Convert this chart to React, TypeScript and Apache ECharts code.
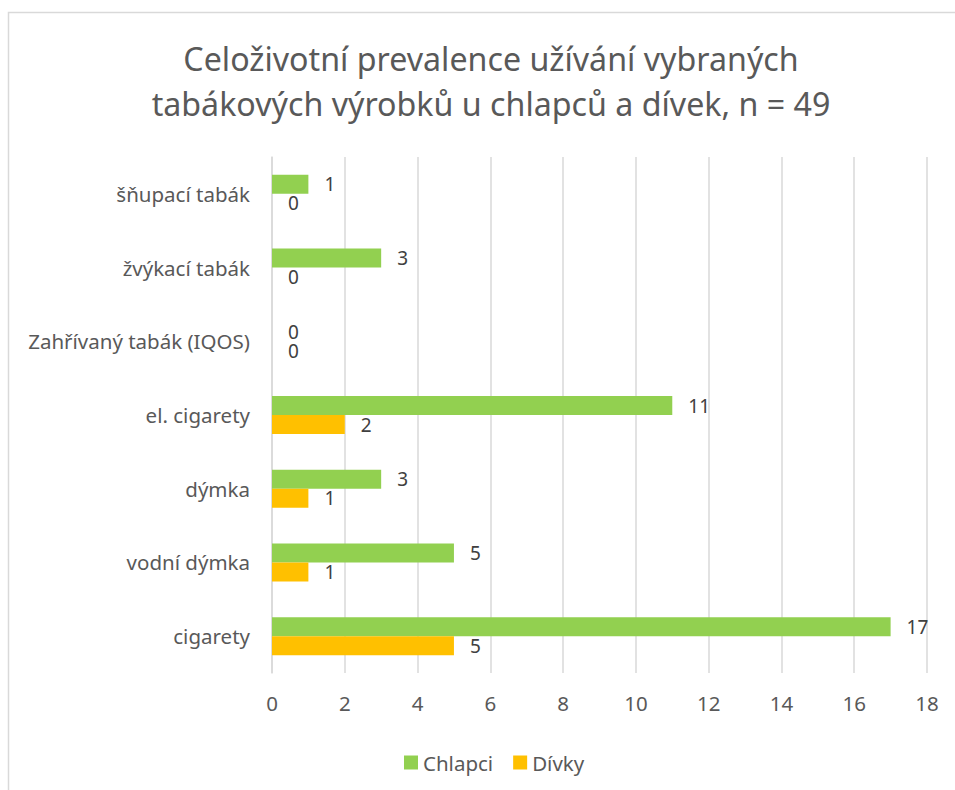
import React, { useEffect, useRef } from "react";
import * as echarts from "echarts";

const categories = [
  "cigarety",
  "vodní dýmka",
  "dýmka",
  "el. cigarety",
  "Zahřívaný tabák (IQOS)",
  "žvýkací tabák",
  "šňupací tabák",
];
const chlapci = [17, 5, 3, 11, 0, 3, 1];
const divky = [5, 1, 1, 2, 0, 0, 0];
const xTicks = { min: 0, max: 18, interval: 2 };
const titleText = "Celoživotní prevalence užívání vybraných\ntabákových výrobků u chlapců a dívek, n = 49";

export default function App() {
  const ref = useRef<HTMLDivElement>(null);
  useEffect(() => {
    if (!ref.current) return;
    const chart = echarts.init(ref.current, null, { renderer: "svg" });
    const font = "'Noto Sans', sans-serif";
    const labelStyle = {
      show: true,
      position: "right",
      distance: 16,
      fontSize: 19,
      lineHeight: 18,
      color: "#404040",
      fontFamily: font,
    };
    chart.setOption({
      animation: false,
      backgroundColor: "#ffffff",
      textStyle: { fontFamily: font },
      graphic: [
        {
          type: "rect",
          shape: { x: 8.5, y: 12.5, width: 1000, height: 900 },
          style: { fill: "none", stroke: "#d9d9d9", lineWidth: 1.5 },
          silent: true,
        },
      ],
      title: {
        text: titleText,
        left: 486,
        textAlign: "center",
        top: 31,
        textStyle: {
          fontSize: 32.2,
          lineHeight: 45,
          fontWeight: "normal",
          color: "#595959",
          fontFamily: font,
        },
      },
      legend: {
        left: 399,
        top: 747,
        itemWidth: 14,
        itemHeight: 14,
        itemGap: 20,
        icon: "rect",
        data: ["Chlapci", "Dívky"],
        textStyle: { fontSize: 20.5, color: "#595959", fontFamily: font },
      },
      grid: { left: 272, right: 28, top: 157, bottom: 117, containLabel: false },
      xAxis: {
        type: "value",
        min: xTicks.min,
        max: xTicks.max,
        interval: xTicks.interval,
        axisLine: { show: false },
        axisTick: { show: false },
        axisLabel: { fontSize: 20.5, color: "#595959", margin: 19, fontFamily: font },
        splitLine: { show: true, lineStyle: { color: "#d9d9d9", width: 1.5 } },
      },
      yAxis: {
        type: "category",
        data: categories,
        axisLine: { show: true, lineStyle: { color: "#d9d9d9", width: 1.5 } },
        axisTick: { show: false },
        axisLabel: { fontSize: 20.5, color: "#595959", margin: 22, fontFamily: font },
      },
      series: [
        {
          name: "Chlapci",
          type: "bar",
          data: chlapci,
          barWidth: 19,
          barGap: "0%",
          itemStyle: { color: "#92d050" },
          label: labelStyle,
        },
        {
          name: "Dívky",
          type: "bar",
          data: divky,
          barWidth: 19,
          barGap: "0%",
          itemStyle: { color: "#ffc000" },
          label: labelStyle,
        },
      ],
    });
    return () => chart.dispose();
  }, []);
  return (
    <div
      ref={ref}
      style={{ position: "absolute", left: 0, top: 0, width: 955, height: 790 }}
    />
  );
}
